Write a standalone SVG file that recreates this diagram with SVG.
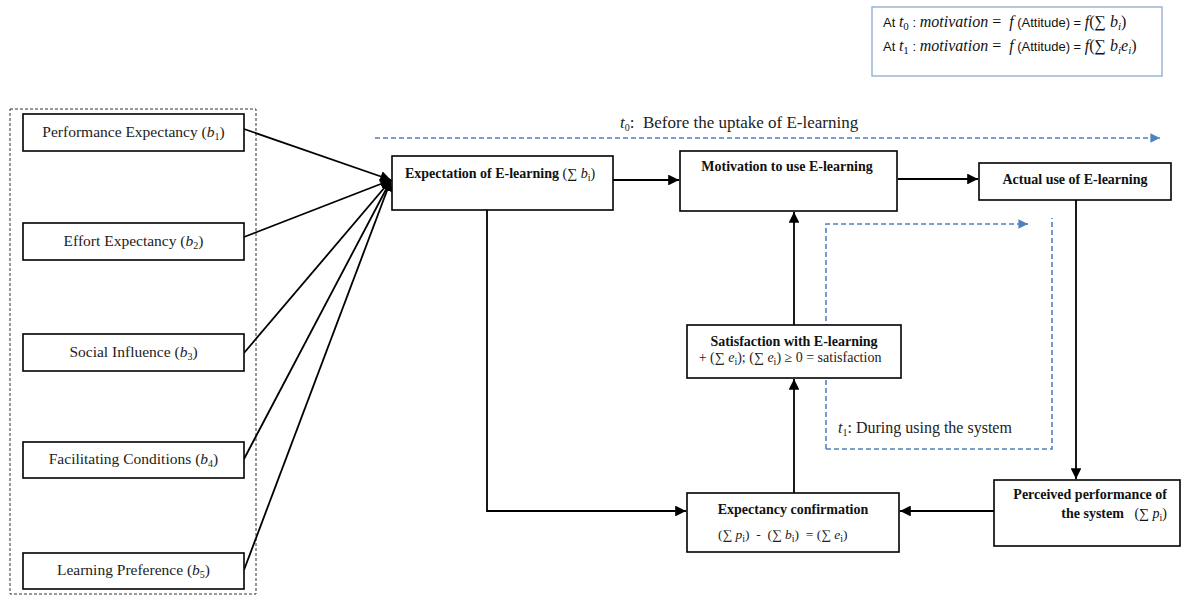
<svg xmlns="http://www.w3.org/2000/svg" width="1186" height="597" viewBox="0 0 1186 597">
<style>
text{white-space:pre}
.box{fill:#fff;stroke:#000;stroke-width:1.6}
.t{font-family:"Liberation Serif",serif;font-size:15.5px;fill:#222}
.b{font-family:"Liberation Serif",serif;font-size:14px;font-weight:bold;fill:#111}
.m{font-style:italic}
.s{font-size:10px;font-style:normal}
.con{stroke:#000;stroke-width:1.8;fill:none}
.blue{stroke:#4f81bd;stroke-width:1.6;stroke-dasharray:5 3;fill:none}
.f{font-family:"Liberation Sans",sans-serif;font-size:13px;fill:#111}
.fm{font-family:"Liberation Serif",serif;font-style:italic;font-size:16px}
.fs{font-family:"Liberation Serif",serif;font-size:11px}
</style>
<defs>
<marker id="ah" viewBox="0 0 10 10" refX="10" refY="5" markerWidth="6" markerHeight="6" orient="auto" markerUnits="strokeWidth"><path d="M0,0 L10,5 L0,10 z" fill="#000"/></marker>
<marker id="bh" viewBox="0 0 10 10" refX="10" refY="5" markerWidth="6" markerHeight="6" orient="auto" markerUnits="strokeWidth"><path d="M0,0 L10,5 L0,10 z" fill="#4f81bd"/></marker>
</defs>

<g id="formula">
<rect x="872" y="7" width="290" height="69" fill="#fff" stroke="#8eaacc" stroke-width="1.3"/>
<text x="883" y="27" class="f">At <tspan class="fm">t</tspan><tspan class="fs" dy="3">0</tspan><tspan dy="-3"> : </tspan><tspan class="fm">motivation</tspan><tspan class="fm" style="font-style:normal"> =  </tspan><tspan class="fm">f</tspan> (Attitude) = <tspan class="fm">f</tspan><tspan class="fm" style="font-style:normal">(∑ </tspan><tspan class="fm">b</tspan><tspan class="fs" style="font-style:italic" dy="3">i</tspan><tspan class="fm" style="font-style:normal" dy="-3">)</tspan></text>
<text x="883" y="51" class="f">At <tspan class="fm">t</tspan><tspan class="fs" dy="3">1</tspan><tspan dy="-3"> : </tspan><tspan class="fm">motivation</tspan><tspan class="fm" style="font-style:normal"> =  </tspan><tspan class="fm">f</tspan> (Attitude) = <tspan class="fm">f</tspan><tspan class="fm" style="font-style:normal">(∑ </tspan><tspan class="fm">b</tspan><tspan class="fs" style="font-style:italic" dy="3">i</tspan><tspan class="fm" dy="-3">e</tspan><tspan class="fs" style="font-style:italic" dy="3">i</tspan><tspan class="fm" style="font-style:normal" dy="-3">)</tspan></text>
</g>

<g id="group-outline">
<rect x="10" y="109" width="246" height="485" fill="none" stroke="#333" stroke-width="1" stroke-dasharray="3 2"/>
</g>

<g id="connectors">
<line class="con" x1="244" y1="129" x2="391" y2="180" marker-end="url(#ah)"/>
<line class="con" x1="244" y1="237" x2="391" y2="180" marker-end="url(#ah)"/>
<line class="con" x1="244" y1="353" x2="391" y2="180" marker-end="url(#ah)"/>
<line class="con" x1="244" y1="459" x2="391" y2="180" marker-end="url(#ah)"/>
<line class="con" x1="244" y1="570" x2="391" y2="180" marker-end="url(#ah)"/>
<line class="con" x1="613" y1="180" x2="679" y2="180" marker-end="url(#ah)"/>
<line class="con" x1="898" y1="179" x2="978" y2="179" marker-end="url(#ah)"/>
<line class="con" x1="1076" y1="200" x2="1076" y2="479" marker-end="url(#ah)"/>
<line class="con" x1="994" y1="511" x2="900" y2="511" marker-end="url(#ah)"/>
<polyline class="con" points="487,210 487,511 686,511" marker-end="url(#ah)"/>
<line class="con" x1="794" y1="493" x2="794" y2="379" marker-end="url(#ah)"/>
<line class="con" x1="794" y1="325" x2="794" y2="212" marker-end="url(#ah)"/>
<line class="blue" x1="375" y1="138" x2="1160" y2="138" marker-end="url(#bh)"/>
<polyline class="blue" points="826,449 826,224 1028,224" marker-end="url(#bh)"/>
<polyline class="blue" points="826,449 1052,449 1052,218"/>
</g>

<g id="label-t0"><text x="620" y="128" class="t" style="font-size:17px"><tspan class="m">t</tspan><tspan class="s" dy="3">0</tspan><tspan dy="-3">:  Before the uptake of E-learning</tspan></text></g>
<g id="label-t1"><text x="838" y="433" class="t" style="font-size:16px"><tspan class="m">t</tspan><tspan class="s" dy="3">1</tspan><tspan dy="-3">: During using the system</tspan></text></g>

<g id="pe"><rect class="box" x="23" y="114" width="221" height="37"/><text x="133.5" y="137" text-anchor="middle" class="t">Performance Expectancy (<tspan class="m">b</tspan><tspan class="s" dy="3">1</tspan><tspan dy="-3">)</tspan></text></g>
<g id="ee"><rect class="box" x="23" y="223" width="221" height="37"/><text x="133.5" y="246" text-anchor="middle" class="t">Effort Expectancy (<tspan class="m">b</tspan><tspan class="s" dy="3">2</tspan><tspan dy="-3">)</tspan></text></g>
<g id="si"><rect class="box" x="23" y="334" width="221" height="37"/><text x="133.5" y="357" text-anchor="middle" class="t">Social Influence (<tspan class="m">b</tspan><tspan class="s" dy="3">3</tspan><tspan dy="-3">)</tspan></text></g>
<g id="fc"><rect class="box" x="23" y="442" width="221" height="36"/><text x="133.5" y="464" text-anchor="middle" class="t">Facilitating Conditions (<tspan class="m">b</tspan><tspan class="s" dy="3">4</tspan><tspan dy="-3">)</tspan></text></g>
<g id="lp"><rect class="box" x="23" y="553" width="221" height="36"/><text x="133.5" y="575" text-anchor="middle" class="t">Learning Preference (<tspan class="m">b</tspan><tspan class="s" dy="3">5</tspan><tspan dy="-3">)</tspan></text></g>

<g id="expectation"><rect class="box" x="392" y="156" width="221" height="54"/><text x="405" y="178" class="b">Expectation of E-learning <tspan style="font-weight:normal">(∑ </tspan><tspan style="font-weight:normal" class="m">b</tspan><tspan style="font-weight:normal" class="s" dy="3">i</tspan><tspan style="font-weight:normal" dy="-3">)</tspan></text></g>
<g id="motivation"><rect class="box" x="680" y="151" width="217" height="60"/><text x="787" y="171" text-anchor="middle" class="b">Motivation to use E-learning</text></g>
<g id="actual"><rect class="box" x="979" y="163" width="192" height="37"/><text x="1075" y="184" text-anchor="middle" class="b">Actual use of E-learning</text></g>
<g id="satisfaction"><rect class="box" x="687" y="325" width="214" height="53"/><text x="794" y="346" text-anchor="middle" class="b">Satisfaction with E-learning</text><text x="790" y="362" text-anchor="middle" class="t" style="font-size:14px">+ (∑ <tspan class="m">e</tspan><tspan class="s" dy="3">i</tspan><tspan dy="-3">); (∑ </tspan><tspan class="m">e</tspan><tspan class="s" dy="3">i</tspan><tspan dy="-3">) ≥ 0 = satisfaction</tspan></text></g>
<g id="confirmation"><rect class="box" x="687" y="493" width="212" height="59"/><text x="793" y="514" text-anchor="middle" class="b">Expectancy confirmation</text><text x="718" y="539" class="t" style="font-size:13.5px">(∑ <tspan class="m">p</tspan><tspan class="s" dy="3">i</tspan><tspan dy="-3">)  -  (∑ </tspan><tspan class="m">b</tspan><tspan class="s" dy="3">i</tspan><tspan dy="-3">)  = (∑ </tspan><tspan class="m">e</tspan><tspan class="s" dy="3">i</tspan><tspan dy="-3">)</tspan></text></g>
<g id="perceived"><rect class="box" x="994" y="480" width="186" height="66"/><text x="1167" y="499" text-anchor="end" class="b">Perceived performance of</text><text x="1167" y="518" text-anchor="end" class="b">the system   <tspan style="font-weight:normal">(∑ </tspan><tspan style="font-weight:normal" class="m">p</tspan><tspan style="font-weight:normal" class="s" dy="3">i</tspan><tspan style="font-weight:normal" dy="-3">)</tspan></text></g>
</svg>
